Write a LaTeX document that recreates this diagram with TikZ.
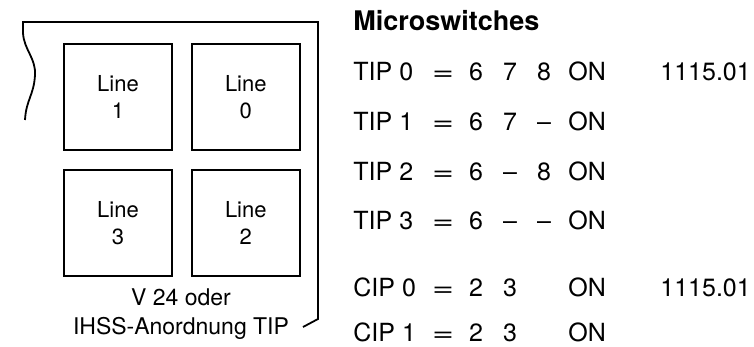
\documentclass[tikz,border=0pt]{standalone}
\usepackage{fontspec}
\setmainfont{TeX Gyre Heros}
\usepackage{graphicx}
\usepackage{tikz}
\usetikzlibrary{positioning}

\begin{document}
\begin{tikzpicture}[
  x=0.5pt, y=-0.5pt,
  font=\fontsize{11}{13.5}\selectfont,
  linebox/.style={draw, line width=0.9pt, align=center, inner sep=0pt, minimum width=54pt, minimum height=53pt},
  caption/.style={inner sep=0pt, font=\fontsize{11.5}{14}\selectfont},
  row/.style={anchor=base west, inner sep=0pt, font=\fontsize{12.5}{15}\selectfont},
  cell/.style={row, anchor=base},
  node distance=9pt and 9pt,
]
\useasboundingbox (0,0) rectangle (754,347);
% board outline with torn left edge
\draw[line width=0.9pt] (25,120) .. controls (26,100) and (34,95) .. (35,75)
  .. controls (36,58) and (24,50) .. (23,33) -- (23,22) -- (318,22) -- (318,319)
  -- (303,327);
\node[linebox] (line1) at (118,97) {Line\\1};
\node[linebox, right=of line1] (line0) {Line\\0};
\node[linebox, below=of line1] (line3) {Line\\3};
\node[linebox, right=of line3] (line2) {Line\\2};
\node[caption] (v24) at (181,297) {V 24 oder};
\node[caption] (ihss) at (181,328) {IHSS-Anordnung TIP};
% switch settings
\node[row, font=\bfseries\fontsize{13.5}{16}\selectfont] (title) at (353,31) {Microswitches};
\foreach \nm/\sa/\sb/\sc/\yy [count=\i] in {TIP 0/6/7/8/81, TIP 1/6/7/--/131,
    TIP 2/6/--/8/181, TIP 3/6/--/--/229, CIP 0/2/3//296, CIP 1/2/3//341} {
  \node[row] (name\i) at (353,\yy) {\nm};
  \node[cell] (eq\i) at (443,\yy) {\scalebox{1.5}[1]{=}};
  \node[cell] (sa\i) at (476,\yy) {\sa};
  \node[cell] (sb\i) at (510,\yy) {\sb};
  \node[cell] (sc\i) at (544,\yy) {\sc};
  \node[row] (on\i) at (568,\yy) {ON};
}
\node[row] (tipnum) at (660,81) {1115.01};
\node[row] (cipnum) at (660,296) {1115.01};
\end{tikzpicture}
\end{document}
